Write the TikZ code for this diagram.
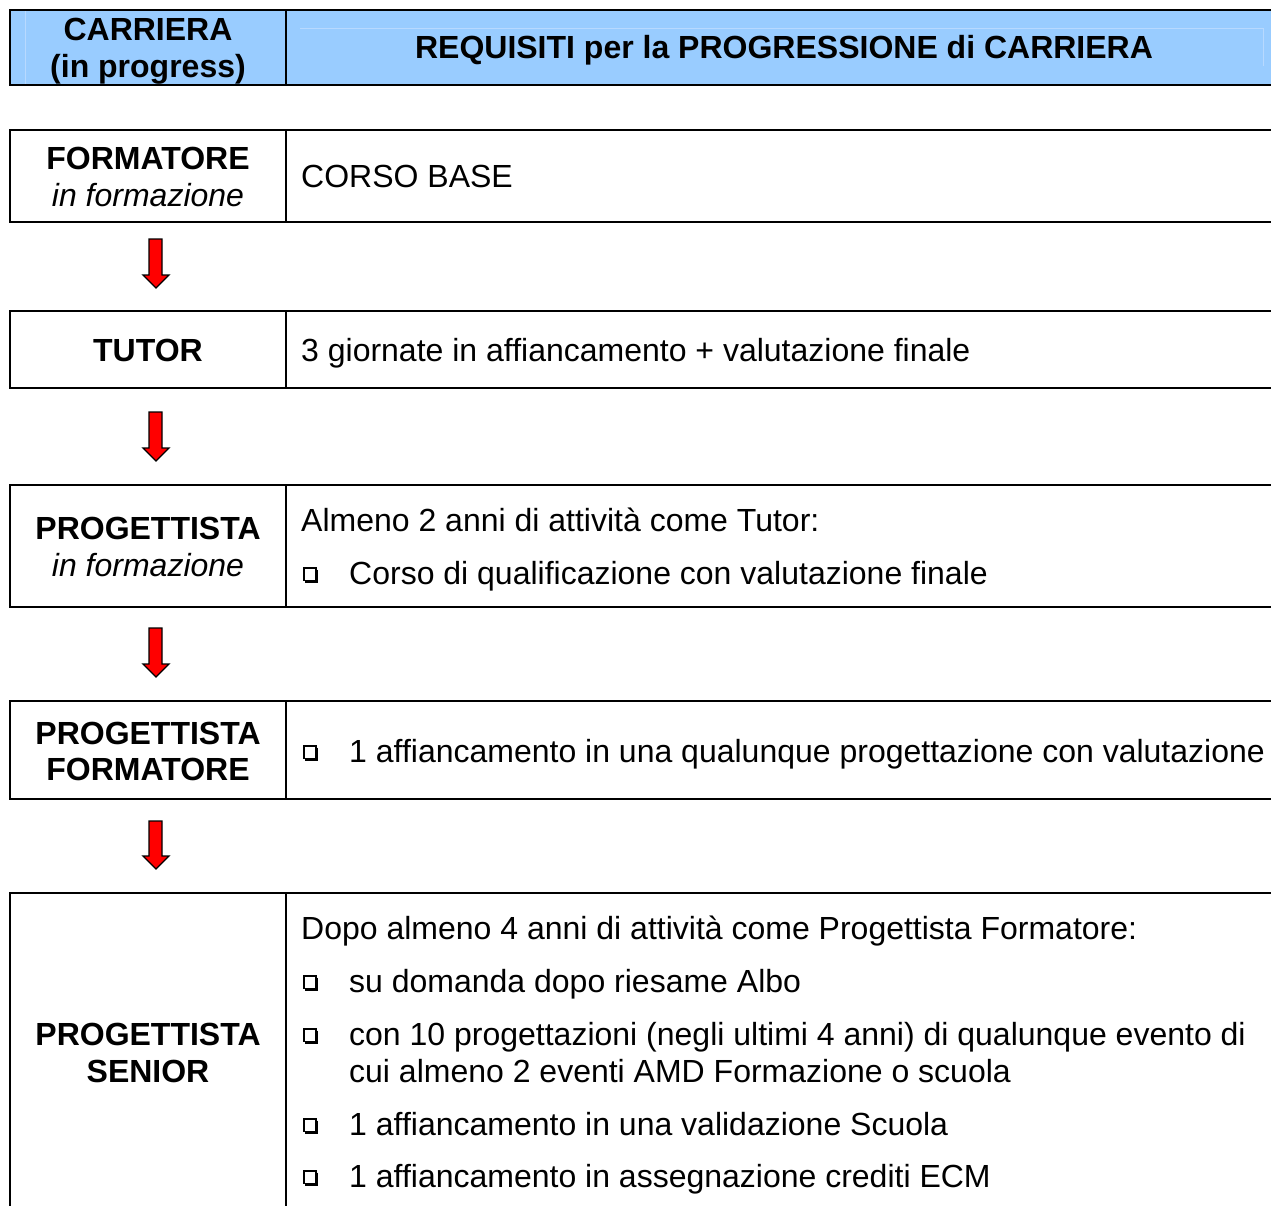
\documentclass[tikz,border=0pt]{standalone}
\usepackage{fontspec}
\setmainfont{Liberation Sans}
\definecolor{hdrblue}{HTML}{99CCFF}
\definecolor{hdrline}{HTML}{B8D9FF}
\definecolor{arrred}{HTML}{FF0000}
\newcommand\rowframe[2]{%
  \draw[cellline] (1280,#1) -- (10,#1) -- (10,#2) -- (1280,#2);
  \draw[cellline] (286,#1) -- (286,#2);}
\newcommand\redarr[2]{%
  \draw[arrline] (149,#1) -- (162,#1) -- (162,#2-13) -- (169,#2-13) -- (156,#2)
    -- (143,#2-13) -- (149,#2-13) -- cycle;}
\newcommand\qbullet[1]{%
  \draw[line width=1.4pt] (304,#1-3.5) rectangle (316,#1-16);
  \draw[line width=1.8pt] (317.5,#1-14.5) -- (317.5,#1-2) -- (305,#1-2);}
\begin{document}
\begin{tikzpicture}[x=1pt,y=-1pt,
  cellline/.style={line width=2pt,line cap=rect},
  arrline/.style={draw=black,line width=1.3pt,fill=arrred,line join=miter},
  bigtxt/.style={inner sep=0pt,font=\fontsize{32}{37}\selectfont},
  ctr/.style={bigtxt,anchor=base},
  lft/.style={bigtxt,anchor=base west},
  bld/.style={font=\fontsize{32}{37}\selectfont\bfseries},
  itl/.style={font=\fontsize{32}{37}\selectfont\itshape}]
\useasboundingbox (0,0) rectangle (1271,1205);
% header
\fill[hdrblue] (10,10) rectangle (1280,85);
\draw[hdrline,line width=1pt] (25,11) -- (25,84);
\draw[hdrline,line width=1pt] (300,28) -- (1263,28) -- (1263,66);
\rowframe{10}{85}
\node[ctr,bld] (hcar) at (148,40) {CARRIERA};
\node[ctr,bld] (hprog) at (148,77) {(in progress)};
\node[ctr,bld] (hreq) at (784,58.5) {REQUISITI per la PROGRESSIONE di CARRIERA};
% row 1
\rowframe{130}{222}
\node[ctr,bld] (r1a) at (148,169) {FORMATORE};
\node[ctr,itl] (r1b) at (148,206) {in formazione};
\node[lft] (r1t) at (301,187) {CORSO BASE};
\redarr{239}{288}
% row 2
\rowframe{311}{388}
\node[ctr,bld] (r2a) at (148,361.5) {TUTOR};
\node[lft] (r2t) at (301,361.5) {3 giornate in affiancamento + valutazione finale};
\redarr{412}{461}
% row 3
\rowframe{485}{607}
\node[ctr,bld] (r3a) at (148,539) {PROGETTISTA};
\node[ctr,itl] (r3b) at (148,576) {in formazione};
\node[lft] (r3t) at (301,531) {Almeno 2 anni di attività come Tutor:};
\qbullet{584}
\node[lft] (r3u) at (349,584) {Corso di qualificazione con valutazione finale};
\redarr{628}{677}
% row 4
\rowframe{701}{799}
\node[ctr,bld] (r4a) at (148,744.5) {PROGETTISTA};
\node[ctr,bld] (r4b) at (148,780.5) {FORMATORE};
\qbullet{762}
\node[lft] (r4u) at (349,762) {1 affiancamento in una qualunque progettazione con valutazione};
\redarr{821}{869}
% row 5
\rowframe{893}{1220}
\node[ctr,bld] (r5a) at (148,1045) {PROGETTISTA};
\node[ctr,bld] (r5b) at (148,1082) {SENIOR};
\node[lft] (r5t) at (301,939) {Dopo almeno 4 anni di attività come Progettista Formatore:};
\qbullet{992}
\node[lft] (r5u1) at (349,992) {su domanda dopo riesame Albo};
\qbullet{1045}
\node[lft] (r5u2) at (349,1045) {con 10 progettazioni (negli ultimi 4 anni) di qualunque evento di};
\node[lft] (r5u2b) at (349,1082) {cui almeno 2 eventi AMD Formazione o scuola};
\qbullet{1135}
\node[lft] (r5u3) at (349,1135) {1 affiancamento in una validazione Scuola};
\qbullet{1187}
\node[lft] (r5u4) at (349,1187) {1 affiancamento in assegnazione crediti ECM};
\end{tikzpicture}
\end{document}
